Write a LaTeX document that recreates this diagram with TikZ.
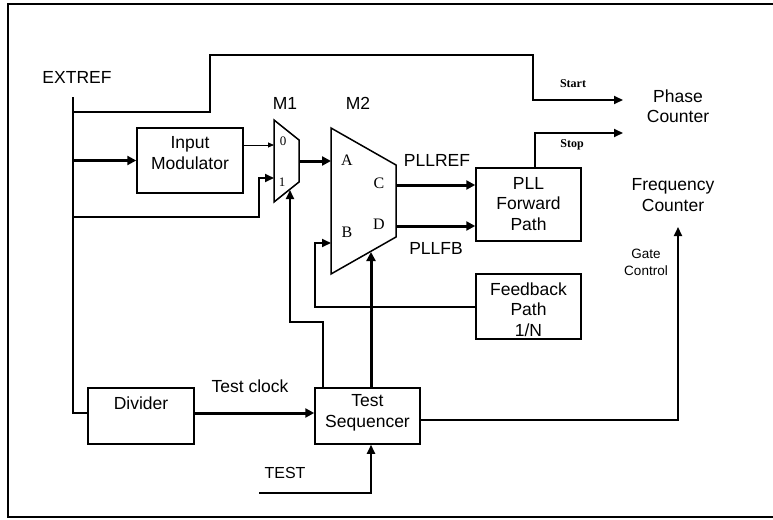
\documentclass[tikz,border=0pt]{standalone}
\usepackage{fontspec}
\setmainfont{Liberation Sans}
\newfontfamily\tms{Liberation Serif}
\usetikzlibrary{arrows.meta}
\begin{document}
\begin{tikzpicture}[x=1pt,y=-1pt,
  boxnode/.style={draw,line width=1.5pt,inner sep=0pt},
  txt/.style={inner sep=0pt,align=center,font=\fontsize{17.5}{20.5}\selectfont},
  smalltxt/.style={inner sep=0pt,align=center,font=\fontsize{13.5}{17}\selectfont},
  serif/.style={inner sep=0pt,font=\tms\fontsize{16}{18}\selectfont},
  serifsm/.style={inner sep=0pt,font=\tms\fontsize{13}{15}\selectfont},
  serifbold/.style={inner sep=0pt,font=\tms\bfseries\fontsize{12}{14}\selectfont},
  wire/.style={line width=2pt},
  wirearrow/.style={line width=2pt,-{Triangle[length=9pt,width=8pt]}},
  thickarrow/.style={line width=3pt,-{Triangle[length=9pt,width=9pt]}},
  thinarrow/.style={line width=0.8pt,-{Triangle[length=6pt,width=5pt]}}]
\useasboundingbox (0,0) rectangle (773,519);
\draw[line width=1.5pt] (8,4) rectangle (790,517);

% boxes
\node[boxnode,minimum width=106pt,minimum height=65pt] (inmod) at (190,160.5) {};
\node[txt] (inmodt) at (190,153) {Input\\Modulator};
\node[boxnode,minimum width=105pt,minimum height=73pt] (pll) at (528.5,204.5) {};
\node[txt] (pllt) at (528.5,204) {PLL\\Forward\\Path};
\node[boxnode,minimum width=105pt,minimum height=65pt] (fb) at (528.5,306.5) {};
\node[txt] (fbt) at (528.5,309.5) {Feedback\\Path\\1/N};
\node[boxnode,minimum width=106pt,minimum height=56pt] (div) at (141,416) {};
\node[txt] (divt) at (141,403) {Divider};
\node[boxnode,minimum width=105pt,minimum height=56pt] (seq) at (367.5,416) {};
\node[txt] (seqt) at (367.5,413) {Test\\Sequencer};

% muxes
\coordinate (m1tl) at (274,120);
\coordinate (m1tr) at (299,140);
\coordinate (m1br) at (299,182);
\coordinate (m1bl) at (274,202);
\draw[line width=1.5pt] (m1tl) -- (m1tr) -- (m1br) -- (m1bl) -- cycle;
\coordinate (m2tl) at (331,128);
\coordinate (m2tr) at (396,165);
\coordinate (m2br) at (396,237);
\coordinate (m2bl) at (331,274);
\draw[line width=1.5pt] (m2tl) -- (m2tr) -- (m2br) -- (m2bl) -- cycle;

% text labels
\node[txt] (extref) at (77,77) {EXTREF};
\node[txt] (m1l) at (285,103) {M1};
\node[txt] (m2l) at (358,103) {M2};
\node[txt] (pllref) at (437,160) {PLLREF};
\node[txt] (pllfb) at (436,248) {PLLFB};
\node[txt] (tclk) at (250,386) {Test clock};
\node[txt,font=\fontsize{16}{18}\selectfont] (test) at (285,473) {TEST};
\node[txt] (phase) at (678,106) {Phase\\Counter};
\node[txt] (freq) at (673,195) {Frequency\\Counter};
\node[smalltxt] (gate) at (646,262) {Gate\\Control};
\node[serifbold] (start) at (573,84) {Start};
\node[serifbold] (stop) at (572,145) {Stop};
\node[serifsm] (in0) at (283,141) {0};
\node[serifsm] (in1) at (282,182) {1};
\node[serif] (pa) at (347,160) {A};
\node[serif] (pb) at (347,232) {B};
\node[serif] (pc) at (379,183) {C};
\node[serif] (pd) at (379,224) {D};

% coordinates for connectors
\coordinate (extop) at (73,97);
\coordinate (phasein1) at (623,100);
\coordinate (phasein2) at (623,133);
\coordinate (freqin) at (678,227);
\coordinate (testin) at (259,493);

% EXTREF trunk to divider
\draw[wire] (extop) |- (div.west |- 0,413);
% Start path
\draw[wirearrow] (73,112) -- (210,112) -- (210,55) -- (533,55) |- (phasein1);
% Stop path
\draw[wirearrow] (pll.north -| 535,0) |- (phasein2);
% to input modulator
\draw[thickarrow] (73,160.5) -- (inmod.west);
% modulator to M1 input 0
\draw[thinarrow] (inmod.east |- 0,145) -- (274,145);
% EXTREF to M1 input 1
\draw[wirearrow] (73,217) -- (259,217) -- (259,178) -- (274,178);
% M1 to M2 A
\draw[thickarrow] (299,161) -- (331,161);
% C and D outputs
\draw[thickarrow] (396,185) -- (pll.west |- 0,185);
\draw[thickarrow] (396,226) -- (pll.west |- 0,226);
% feedback to B
\draw[wirearrow] (fb.west |- 0,307) -- (315,307) -- (315,243) -- (331,243);
% sequencer to M1 select
\draw[wirearrow] (seq.north -| 323,0) -- (323,322) -- (290,322) -- (290,190);
% sequencer to M2 select
\draw[thickarrow] (seq.north -| 371,0) -- (371,252);
% test clock
\draw[thickarrow] (div.east |- 0,413) -- (seq.west |- 0,413);
% TEST input
\draw[wirearrow] (testin) -| (seq.south -| 371,0);
% gate control
\draw[wirearrow] (seq.east |- 0,420) -| (freqin);
\end{tikzpicture}
\end{document}
